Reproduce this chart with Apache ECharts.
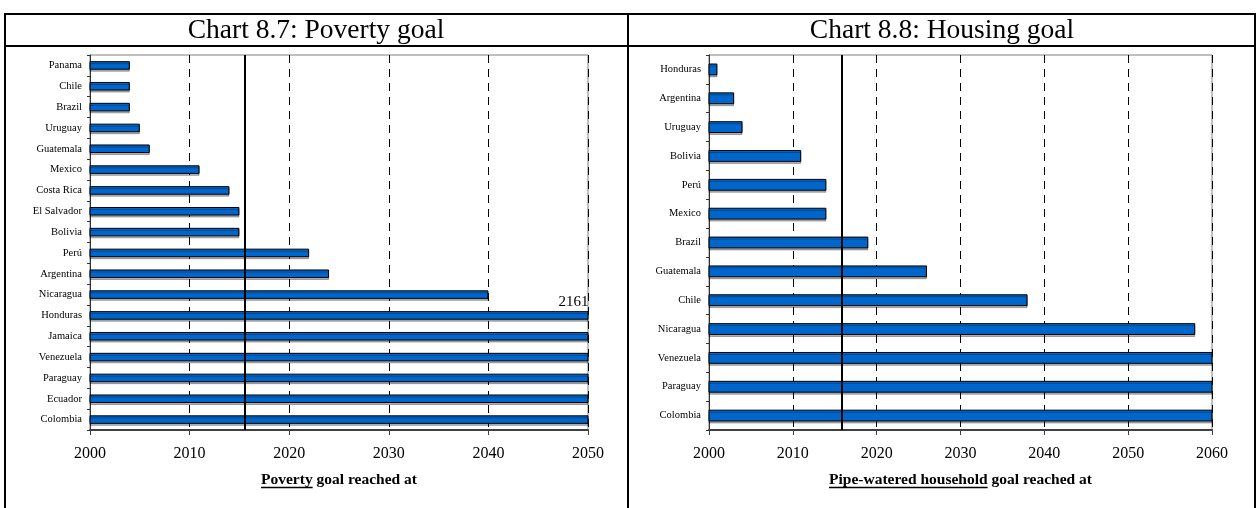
<!DOCTYPE html>
<html>
<head>
<meta charset="utf-8">
<script src="https://cdn.jsdelivr.net/npm/echarts@6/dist/echarts.min.js"></script>
<style>
html, body { margin: 0; padding: 0; background: #fff; }
#chart { width: 1259px; height: 508px; }
</style>
</head>
<body>
<div id="chart"></div>
<script>
// Chart 8.7 - poverty goal (bars past 2050 are cut at the axis end)
const povertyCountries = ['Panama', 'Chile', 'Brazil', 'Uruguay', 'Guatemala', 'Mexico', 'Costa Rica',
    'El Salvador', 'Bolivia', 'Perú', 'Argentina', 'Nicaragua', 'Honduras', 'Jamaica', 'Venezuela',
    'Paraguay', 'Ecuador', 'Colombia'];
const povertyYears = [2004, 2004, 2004, 2005, 2006, 2011, 2014, 2015, 2015, 2022, 2024, 2040, 2161,
    2100, 2100, 2100, 2100, 2100];
const povertyLabelled = ['Honduras'];
const povertyTarget = 2015.5;

// Chart 8.8 - housing goal
const housingCountries = ['Honduras', 'Argentina', 'Uruguay', 'Bolivia', 'Perú', 'Mexico', 'Brazil',
    'Guatemala', 'Chile', 'Nicaragua', 'Venezuela', 'Paraguay', 'Colombia'];
const housingYears = [2001, 2003, 2004, 2011, 2014, 2014, 2019, 2026, 2038, 2058, 2100, 2100, 2100];
const housingTarget = 2015.8;

const titles = ['Chart 8.7: Poverty goal', 'Chart 8.8: Housing goal'];
const axisTitles = [['Poverty', ' goal reached at'], ['Pipe-watered household', ' goal reached at']];

const serif = '"Liberation Serif", "Times New Roman", serif';
const grids = [
    { left: 90, top: 55, width: 498, height: 375 },
    { left: 709, top: 55, width: 503, height: 375 }
];

const chart = echarts.init(document.getElementById('chart'));

function xAxisFor(idx, max) {
    return {
        type: 'value', gridIndex: idx, min: 2000, max: max, interval: 10,
        axisLine: { show: true, lineStyle: { color: '#404040', width: 2 } },
        axisTick: { show: true, length: 5, lineStyle: { color: '#404040' } },
        axisLabel: { color: '#000', fontFamily: serif, fontSize: 16, margin: 16, formatter: v => String(v) },
        splitLine: { show: true, lineStyle: { color: '#000', width: 1, type: [8, 6] } }
    };
}
function yAxisFor(idx, cats) {
    return {
        type: 'category', gridIndex: idx, data: cats, inverse: true,
        axisLine: { show: true, lineStyle: { color: '#333', width: 1 } },
        axisTick: { show: true, length: 3, lineStyle: { color: '#333' } },
        axisLabel: { color: '#000', fontFamily: serif, fontSize: 10.5, margin: 8 },
        splitLine: { show: false }
    };
}
function barSeries(idx, years, target, labelled) {
    return {
        type: 'bar', xAxisIndex: idx, yAxisIndex: idx, data: years,
        barWidth: '41%', clip: true,
        itemStyle: {
            color: '#0066CC', borderColor: '#000', borderWidth: 1,
            shadowColor: 'rgba(0,0,0,0.3)', shadowOffsetY: 2, shadowBlur: 0
        },
        label: {
            show: labelled.length > 0,
            position: ['100%', -2], align: 'right', verticalAlign: 'bottom',
            color: '#000', fontFamily: serif, fontSize: 15,
            formatter: p => labelled.includes(p.name) ? String(p.value) : ''
        },
        markLine: {
            silent: true, symbol: 'none', animation: false,
            label: { show: false },
            lineStyle: { color: '#000', width: 2, type: 'solid' },
            data: [{ xAxis: target }]
        }
    };
}

// underlined axis titles, measured so the underline sits under the first words
const titleFont = 'bold 15.5px "Liberation Serif"';
const ctx = document.createElement('canvas').getContext('2d');
ctx.font = titleFont;
const axisGraphics = [];
grids.forEach((g, i) => {
    const [u, rest] = axisTitles[i];
    const wu = ctx.measureText(u).width;
    const wall = ctx.measureText(u + rest).width;
    const x0 = g.left + g.width / 2 - wall / 2;
    axisGraphics.push({
        type: 'text', x: x0, y: 480,
        style: { text: u + rest, font: 'bold 15.5px ' + serif, fill: '#000', textAlign: 'left', textVerticalAlign: 'middle' }
    });
    axisGraphics.push({
        type: 'line', shape: { x1: x0, y1: 487.5, x2: x0 + wu, y2: 487.5 },
        style: { stroke: '#000', lineWidth: 1.5 }
    });
});

const titleStyle = { fontFamily: serif, fontSize: 27.5, fontWeight: 'normal', color: '#000' };
const option = {
    animation: false,
    backgroundColor: '#fff',
    title: [
        { text: titles[0], left: 316, top: 17, textAlign: 'center', padding: 0, textStyle: titleStyle },
        { text: titles[1], left: 942, top: 17, textAlign: 'center', padding: 0, textStyle: titleStyle }
    ],
    grid: grids.map(g => Object.assign({ show: true, borderColor: '#808080', borderWidth: 1, containLabel: false }, g)),
    xAxis: [xAxisFor(0, 2050), xAxisFor(1, 2060)],
    yAxis: [yAxisFor(0, povertyCountries), yAxisFor(1, housingCountries)],
    series: [
        barSeries(0, povertyYears, povertyTarget, povertyLabelled),
        barSeries(1, housingYears, housingTarget, [])
    ],
    graphic: [
        { type: 'rect', shape: { x: 5, y: 14, width: 1250, height: 520 },
          style: { fill: 'none', stroke: '#000', lineWidth: 2 } },
        { type: 'line', shape: { x1: 5, y1: 46, x2: 1255, y2: 46 }, style: { stroke: '#000', lineWidth: 2 } },
        { type: 'line', shape: { x1: 628, y1: 14, x2: 628, y2: 508 }, style: { stroke: '#000', lineWidth: 2 } }
    ].concat(axisGraphics)
};
chart.setOption(option);
</script>
</body>
</html>
